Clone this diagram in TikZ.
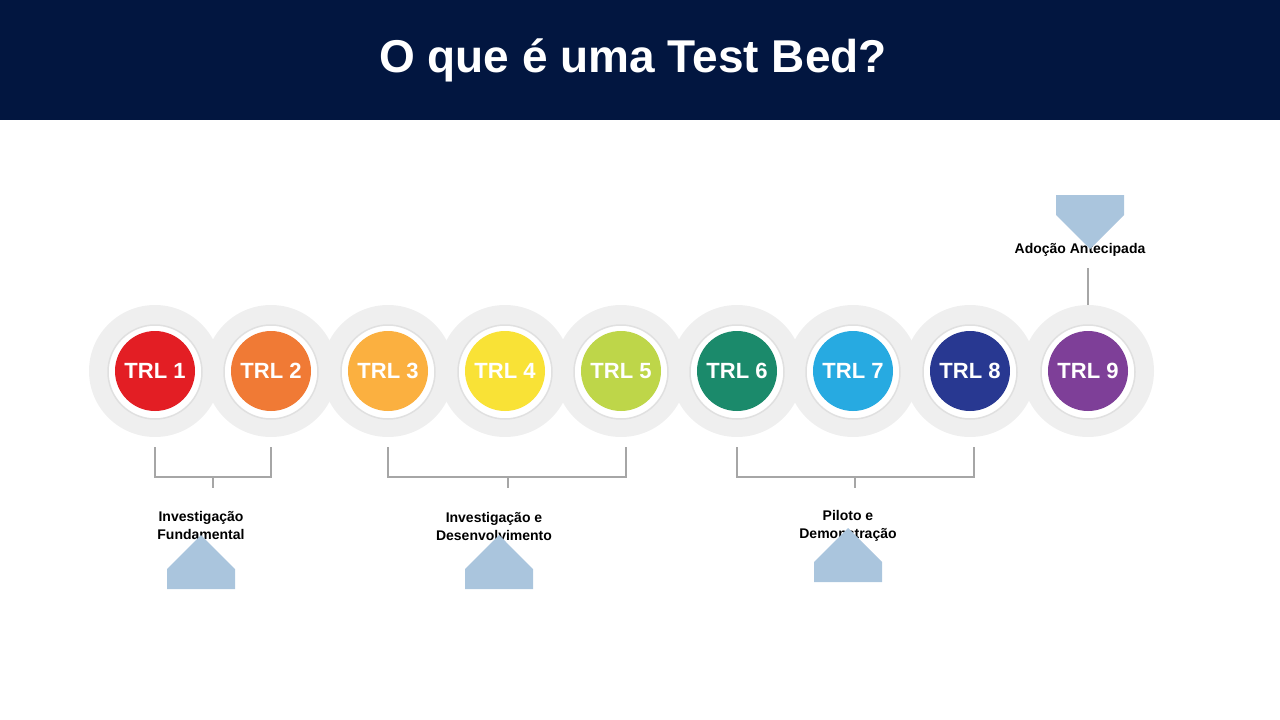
\documentclass[tikz,border=0pt]{standalone}
\usepackage{fontspec}
\setmainfont{Liberation Sans}
\usetikzlibrary{positioning, shapes.arrows}
\definecolor{navyHead}{HTML}{021640}
\definecolor{arrowBlue}{HTML}{AAC5DD}
\definecolor{bracketGray}{HTML}{A6A6A6}
\definecolor{haloGray}{HTML}{EFEFEF}
\tikzset{
    halo/.style={circle, fill=haloGray, minimum size=132pt, inner sep=0pt},
    ring/.style={circle, fill=white, draw=black!12, line width=1.5pt, minimum size=94pt, inner sep=0pt},
    trl/.style={circle, fill=#1, minimum size=80pt, inner sep=0pt, text=white, font=\bfseries\fontsize{22}{24}\selectfont},
    stageLabel/.style={align=center, font=\bfseries\fontsize{14}{18}\selectfont},
    bracket/.style={draw=bracketGray, line width=2pt},
    bigArrow/.style={single arrow, fill=arrowBlue, minimum width=68pt, single arrow head extend=0pt, single arrow head indent=0pt, inner sep=0pt, minimum height=54pt, text width=28pt},
}
\begin{document}
\begin{tikzpicture}[x=1pt, y=-1pt]
    \useasboundingbox (0,0) rectangle (1280,720);
    \fill[navyHead] (0,0) rectangle (1280,120);
    \node[text=white, font=\bfseries\fontsize{46}{50}\selectfont] (title) at (633,60) {O que é uma Test Bed?};

    % halos first, then rings and coloured discs
    \foreach \i/\x in {1/155,2/271,3/388,4/505,5/621,6/737,7/853,8/970,9/1088}
        \node[halo] (h\i) at (\x,371) {};
    \foreach \i/\x/\c in {1/155/E31E24,2/271/F07A35,3/388/FBB040,4/505/F9E236,5/621/BED649,6/737/1B8A6B,7/853/27AAE1,8/970/283891,9/1088/7E3F98}{
        \definecolor{trl\i}{HTML}{\c}
        \node[ring] (r\i) at (\x,372) {};
        \node[trl=trl\i] (t\i) at (\x,371) {TRL \i};
    }

    % brackets
    \draw[bracket] (155,447) |- (271,477) -- (271,447);
    \draw[bracket] (213,477) -- (213,488);
    \draw[bracket] (388,447) |- (626,477) -- (626,447);
    \draw[bracket] (508,477) -- (508,488);
    \draw[bracket] (737,447) |- (974,477) -- (974,447);
    \draw[bracket] (855,477) -- (855,488);
    \coordinate (c9) at (1088,268);
    \draw[bracket] (c9) -- (h9);

    \node[stageLabel] (s1) at (201,525) {Investigação\\Fundamental};
    \node[stageLabel] (s2) at (494,526) {Investigação e\\Desenvolvimento};
    \node[stageLabel] (s3) at (848,526) {Piloto e\\Demonstração};
    \node[stageLabel] (s4) at (1080,250) {Adoção Antecipada};

    \node[bigArrow, shape border rotate=90] (a1) at (201,579) {};
    \node[bigArrow, shape border rotate=90] (a2) at (499,579) {};
    \node[bigArrow, shape border rotate=90] (a3) at (848,572) {};
    \node[bigArrow, shape border rotate=270] (a4) at (1090,205) {};
\end{tikzpicture}
\end{document}
